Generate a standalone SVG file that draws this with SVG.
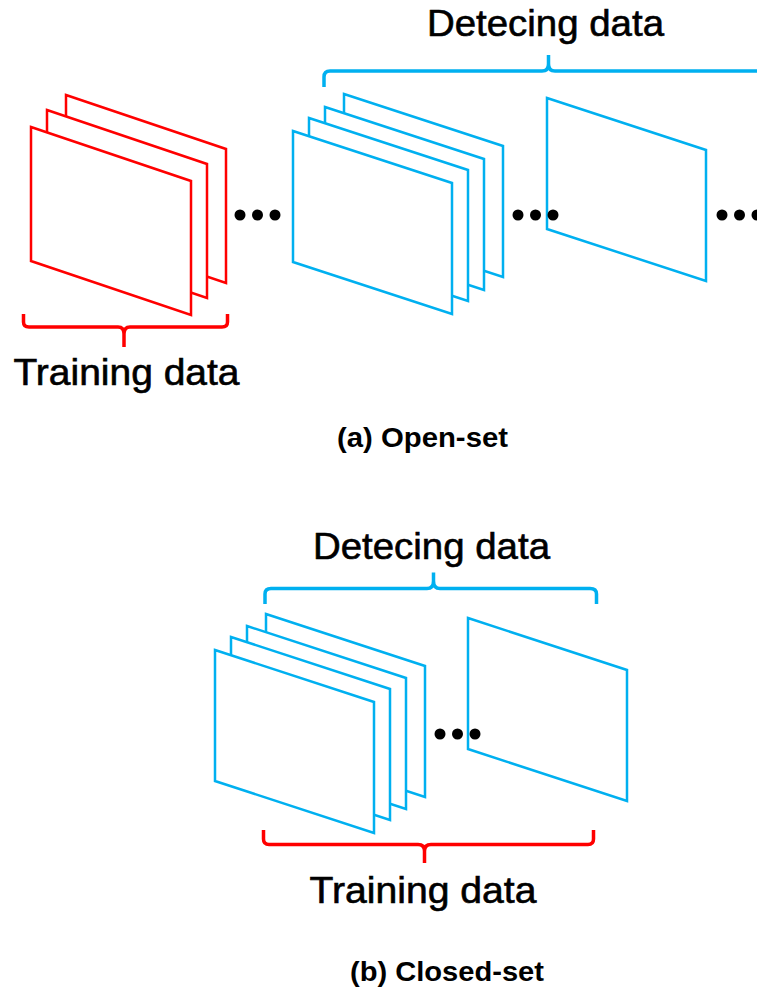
<svg xmlns="http://www.w3.org/2000/svg" width="757" height="987" viewBox="0 0 757 987">
<style>
.red{fill:#fff;stroke:#ff0000;stroke-width:2.5;stroke-linejoin:miter}
.blue{fill:#fff;stroke:#00b0f0;stroke-width:2.5;stroke-linejoin:miter}
.brR{fill:none;stroke:#ff0000;stroke-width:3.5;stroke-linejoin:round;stroke-linecap:butt}
.brB{fill:none;stroke:#00b0f0;stroke-width:3.5;stroke-linejoin:round;stroke-linecap:butt}
.lbl{font-family:"Liberation Sans",Arial,sans-serif;font-size:36px;fill:#000;stroke:#000;stroke-width:0.6}
.cap{font-family:"Liberation Sans",Arial,sans-serif;font-size:27px;font-weight:bold;fill:#000}
.dot{fill:#000}
</style>
<defs>
<polygon id="fR" points="0,0 160,54 160,188 0,134"/>
<polygon id="fB" points="0,0 159,52 159,183 0,131"/>
<g id="dots"><circle cx="0" cy="0" r="5.5"/><circle cx="17.5" cy="0" r="5.5"/><circle cx="35" cy="0" r="5.5"/></g>
</defs>

<!-- (a) Open-set -->
<g id="trainStackA">
<use href="#fR" x="66" y="95" class="red"/>
<use href="#fR" x="47" y="110" class="red"/>
<use href="#fR" x="31" y="127" class="red"/>
</g>
<g id="detectStackA">
<use href="#fB" x="344" y="94" class="blue"/>
<use href="#fB" x="325" y="107" class="blue"/>
<use href="#fB" x="309" y="118" class="blue"/>
<use href="#fB" x="293" y="131" class="blue"/>
</g>
<g id="detectFrameA">
<use href="#fB" x="547" y="98" class="blue"/>
</g>
<g id="dotsA" class="dot">
<use href="#dots" x="240" y="215"/>
<use href="#dots" x="518" y="215"/>
<use href="#dots" x="722" y="215"/>
</g>
<g id="bracketsA">
<path class="brR" d="M23.5,314 V322 Q23.5,327 29,327 H118 Q124,327 124,334 V347 M124,334 Q124,327 130,327 H222 Q227.5,327 227.5,322 V314"/>
<path class="brB" d="M324,87 V77 Q324,71 330,71 H542 Q548.5,71 548.5,64 V55 M548.5,64 Q548.5,71 555,71 H760"/>
</g>
<g id="labelsA">
<text class="lbl" x="13.5" y="385" textLength="226" lengthAdjust="spacingAndGlyphs">Training data</text>
<text class="lbl" x="427" y="36" textLength="237" lengthAdjust="spacingAndGlyphs">Detecing data</text>
<text class="cap" x="337" y="447" textLength="171" lengthAdjust="spacingAndGlyphs">(a) Open-set</text>
</g>

<!-- (b) Closed-set -->
<g id="detectStackB">
<use href="#fB" x="266" y="614" class="blue"/>
<use href="#fB" x="247" y="626" class="blue"/>
<use href="#fB" x="231" y="637" class="blue"/>
<use href="#fB" x="215" y="650" class="blue"/>
</g>
<g id="detectFrameB">
<use href="#fB" x="468" y="618" class="blue"/>
</g>
<g id="dotsB" class="dot">
<use href="#dots" x="440" y="734"/>
</g>
<g id="bracketsB">
<path class="brB" d="M265,604 V594 Q265,588.5 271,588.5 H427 Q433.5,588.5 433.5,581 V572.5 M433.5,581 Q433.5,588.5 440,588.5 H590 Q596.5,588.5 596.5,594 V604"/>
<path class="brR" d="M263.5,830 V839 Q263.5,844.5 269,844.5 H418 Q424.5,844.5 424.5,851 V863 M424.5,851 Q424.5,844.5 431,844.5 H588 Q593.5,844.5 593.5,839 V830"/>
</g>
<g id="labelsB">
<text class="lbl" x="313" y="559" textLength="237" lengthAdjust="spacingAndGlyphs">Detecing data</text>
<text class="lbl" x="309.5" y="903" textLength="227" lengthAdjust="spacingAndGlyphs">Training data</text>
<text class="cap" x="350" y="981" textLength="194" lengthAdjust="spacingAndGlyphs">(b) Closed-set</text>
</g>
</svg>
